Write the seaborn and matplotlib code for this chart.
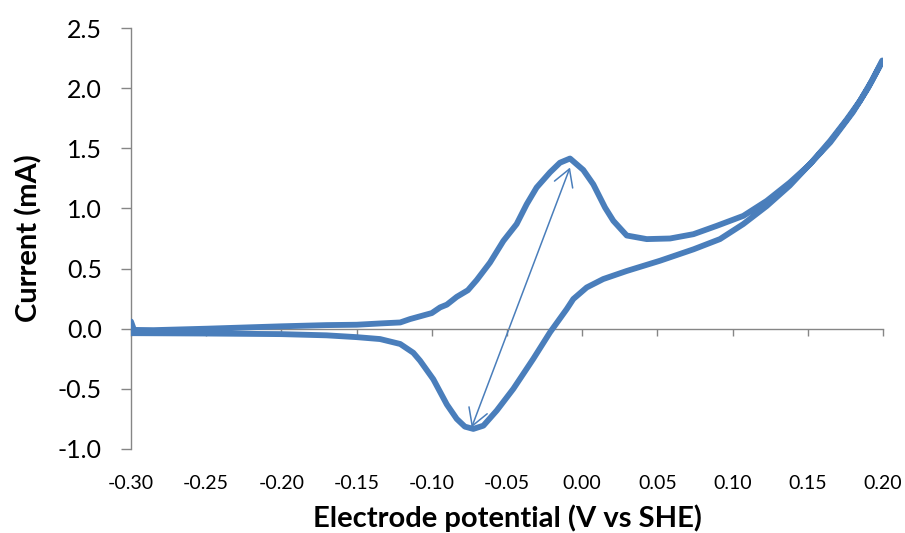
import numpy as np
import pandas as pd
import matplotlib
matplotlib.use("Agg")
import matplotlib.pyplot as plt
import seaborn as sns

# ---- data ----
fwd_potential = [-0.300, -0.298, -0.285, -0.250, -0.200, -0.170, -0.150, -0.134, -0.121, -0.1145,
                 -0.100, -0.0945, -0.090, -0.0834, -0.0760, -0.0701, -0.0613, -0.0524, -0.0436,
                 -0.0369, -0.0303, -0.0214, -0.0148, -0.0081, 0.0007, 0.0074, 0.0152, 0.0207,
                 0.0296, 0.0429, 0.0584, 0.074, 0.0894, 0.1071, 0.1227, 0.138, 0.1515, 0.1648,
                 0.1759, 0.1847, 0.1925, 0.1995]
fwd_current = [0.06, -0.01, -0.012, 0.0, 0.02, 0.03, 0.033, 0.044, 0.052, 0.08,
               0.13, 0.177, 0.20, 0.265, 0.32, 0.405, 0.55, 0.73, 0.87,
               1.035, 1.174, 1.30, 1.38, 1.415, 1.32, 1.20, 1.007, 0.897,
               0.775, 0.745, 0.75, 0.786, 0.855, 0.938, 1.063, 1.215, 1.368, 1.561,
               1.74, 1.894, 2.06, 2.23]

rev_potential = [0.1995, 0.19, 0.18, 0.165, 0.15, 0.138, 0.1227, 0.1071, 0.0916, 0.074,
                 0.0517, 0.0296, 0.014, 0.003, -0.0059, -0.0103, -0.0214, -0.0325, -0.0458,
                 -0.0568, -0.0657, -0.0724, -0.078, -0.0834, -0.090, -0.099, -0.1078,
                 -0.1123, -0.121, -0.1344, -0.150, -0.170, -0.200, -0.250, -0.300]
rev_current = [2.22, 2.00, 1.80, 1.55, 1.35, 1.19, 1.02, 0.87, 0.745, 0.66,
               0.565, 0.48, 0.413, 0.343, 0.247, 0.163, -0.03, -0.25, -0.50,
               -0.68, -0.806, -0.833, -0.814, -0.75, -0.63, -0.42, -0.266,
               -0.20, -0.127, -0.086, -0.07, -0.055, -0.045, -0.04, -0.037]

arrow_start = (-0.0735, -0.82)
arrow_end = (-0.0081, 1.34)

x_ticks = [-0.30, -0.25, -0.20, -0.15, -0.10, -0.05, 0.00, 0.05, 0.10, 0.15, 0.20]
y_ticks = [-1.0, -0.5, 0.0, 0.5, 1.0, 1.5, 2.0, 2.5]

x_title = "Electrode potential (V vs SHE)"
y_title = "Current (mA)"

# ---- style ----
sns.set_theme(style="white")
plt.rcParams["font.family"] = ["Lato", "DejaVu Sans"]
plt.rcParams["axes.unicode_minus"] = False

BLUE = "#4A7EBB"
GREY = "#868686"

df = pd.DataFrame({
    "potential": fwd_potential + rev_potential,
    "current": fwd_current + rev_current,
})

fig = plt.figure(figsize=(9.05, 5.33), dpi=100)
ax = fig.add_axes([131 / 905, 1 - 449 / 533, 752 / 905, 421 / 533])

sns.lineplot(data=df, x="potential", y="current", sort=False, estimator=None,
             color=BLUE, linewidth=4.2, ax=ax, zorder=3,
             solid_joinstyle="round", solid_capstyle="round")

ax.annotate("", xy=arrow_end, xytext=arrow_start, zorder=2,
            arrowprops=dict(arrowstyle="<->,head_length=0.6,head_width=0.35",
                            color=BLUE, lw=1.1, mutation_scale=20,
                            shrinkA=0, shrinkB=0))

ax.set_xlim(x_ticks[0], x_ticks[-1])
ax.set_ylim(y_ticks[0], y_ticks[-1])
ax.set_xticks(x_ticks)
ax.set_yticks(y_ticks)
ax.set_xticklabels([f"{v:.2f}" for v in x_ticks])
ax.set_yticklabels([f"{v:.1f}" for v in y_ticks])

for s in ["top", "right"]:
    ax.spines[s].set_visible(False)
for s in ["left", "bottom"]:
    ax.spines[s].set_color(GREY)
    ax.spines[s].set_linewidth(1.0)
ax.spines["bottom"].set_position(("data", 0))

ax.tick_params(axis="x", direction="out", length=5, width=1.0, color=GREY,
               pad=100, labelsize=14, labelcolor="black")
ax.tick_params(axis="y", direction="out", length=7, width=1.0, color=GREY,
               pad=14, labelsize=18, labelcolor="black")
ax.xaxis.set_ticks_position("bottom")
ax.yaxis.set_ticks_position("left")

ax.set_xlabel(x_title, fontsize=21, fontweight="bold", color="black")
ax.set_ylabel(y_title, fontsize=21, fontweight="bold", color="black")
ax.xaxis.set_label_coords(0.5, -0.132)
ax.yaxis.set_label_coords(-0.118, 0.5)
ax.grid(False)

fig.savefig("out.png", dpi=100, facecolor="white")
